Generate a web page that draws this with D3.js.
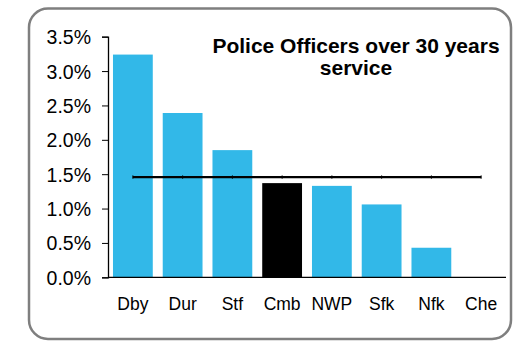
<!DOCTYPE html>
<html>
<head>
<meta charset="utf-8">
<script src="https://cdn.jsdelivr.net/npm/d3@7"></script>
<style>
  body { margin: 0; background: #fff; }
  text { font-family: "Liberation Sans", Arial, sans-serif; fill: #000; }
</style>
</head>
<body>
<div id="d3-container"></div>
<script>
/**
 * CONSTANTS AND GLOBALS
 * */
const width = 517,
  height = 342,
  margin = { top: 37, bottom: 65, left: 108, right: 11 };

// data
const forces = ["Dby", "Dur", "Stf", "Cmb", "NWP", "Sfk", "Nfk", "Che"];
const pctOver30 = [3.24, 2.39, 1.85, 1.37, 1.33, 1.06, 0.43, 0];
const average = [1.456, 1.456, 1.456, 1.456, 1.456, 1.456, 1.456, 1.456];
const yTicks = [0, 0.5, 1, 1.5, 2, 2.5, 3, 3.5];
const titleLines = ["Police Officers over 30 years", "service"];
const highlight = "Cmb";

const svg = d3.select("#d3-container")
  .append("svg")
  .attr("width", width)
  .attr("height", height);

// rounded frame
svg.append("rect")
  .attr("x", 29)
  .attr("y", 8.5)
  .attr("width", 482)
  .attr("height", 330.5)
  .attr("rx", 19)
  .attr("fill", "#fff")
  .attr("stroke", "#7f7f7f")
  .attr("stroke-width", 2.5);

const x = d3.scaleBand()
  .domain(forces)
  .range([margin.left, width - margin.right])
  .paddingInner(0.2)
  .paddingOuter(0.1);

const y = d3.scaleLinear()
  .domain([0, 3.5])
  .range([277.3, 36.7]);

// bars
svg.selectAll("rect.bar")
  .data(forces)
  .join("rect")
  .attr("class", "bar")
  .attr("x", d => x(d))
  .attr("width", x.bandwidth())
  .attr("y", (d, i) => y(pctOver30[i]))
  .attr("height", (d, i) => y(0) - y(pctOver30[i]))
  .attr("fill", d => d == highlight ? "#000" : "#32b8e8");

// y axis
const yAxis = svg.append("g")
  .attr("transform", `translate(${margin.left},0)`)
  .call(d3.axisLeft(y).tickValues(yTicks).tickFormat(d => d.toFixed(1) + "%").tickSize(6).tickPadding(11));
yAxis.select(".domain").attr("stroke", "#000").attr("stroke-width", 1.3);
yAxis.selectAll(".tick line").attr("stroke", "#000");
yAxis.selectAll("text").style("font-size", "19.5px").attr("dy", "0.36em");

// x axis line (no ticks)
svg.append("line")
  .attr("x1", margin.left)
  .attr("x2", width - margin.right)
  .attr("y1", y(0))
  .attr("y2", y(0))
  .attr("stroke", "#000")
  .attr("stroke-width", 1.3);

svg.selectAll("text.cat")
  .data(forces)
  .join("text")
  .attr("class", "cat")
  .attr("x", d => x(d) + x.bandwidth() / 2)
  .attr("y", 310)
  .attr("text-anchor", "middle")
  .style("font-size", "17.5px")
  .text(d => d);

// average line
const line = d3.line()
  .x((d, i) => x(forces[i]) + x.bandwidth() / 2)
  .y(d => y(d));

svg.append("path")
  .datum(average)
  .attr("d", line)
  .attr("fill", "none")
  .attr("stroke", "#000")
  .attr("stroke-width", 2.2);

// tiny point markers on the line
svg.selectAll("line.mark")
  .data(average)
  .join("line")
  .attr("class", "mark")
  .attr("x1", (d, i) => x(forces[i]) + x.bandwidth() / 2)
  .attr("x2", (d, i) => x(forces[i]) + x.bandwidth() / 2)
  .attr("y1", d => y(d) - 1.8)
  .attr("y2", d => y(d) + 1.5)
  .attr("stroke", "#000")
  .attr("stroke-width", 1);

// title
svg.append("text")
  .attr("x", 356)
  .attr("y", 53)
  .attr("text-anchor", "middle")
  .style("font-size", "21px")
  .style("font-weight", "bold")
  .selectAll("tspan")
  .data(titleLines)
  .join("tspan")
  .attr("x", 356)
  .attr("dy", (d, i) => i == 0 ? 0 : 22)
  .text(d => d);
</script>
</body>
</html>
